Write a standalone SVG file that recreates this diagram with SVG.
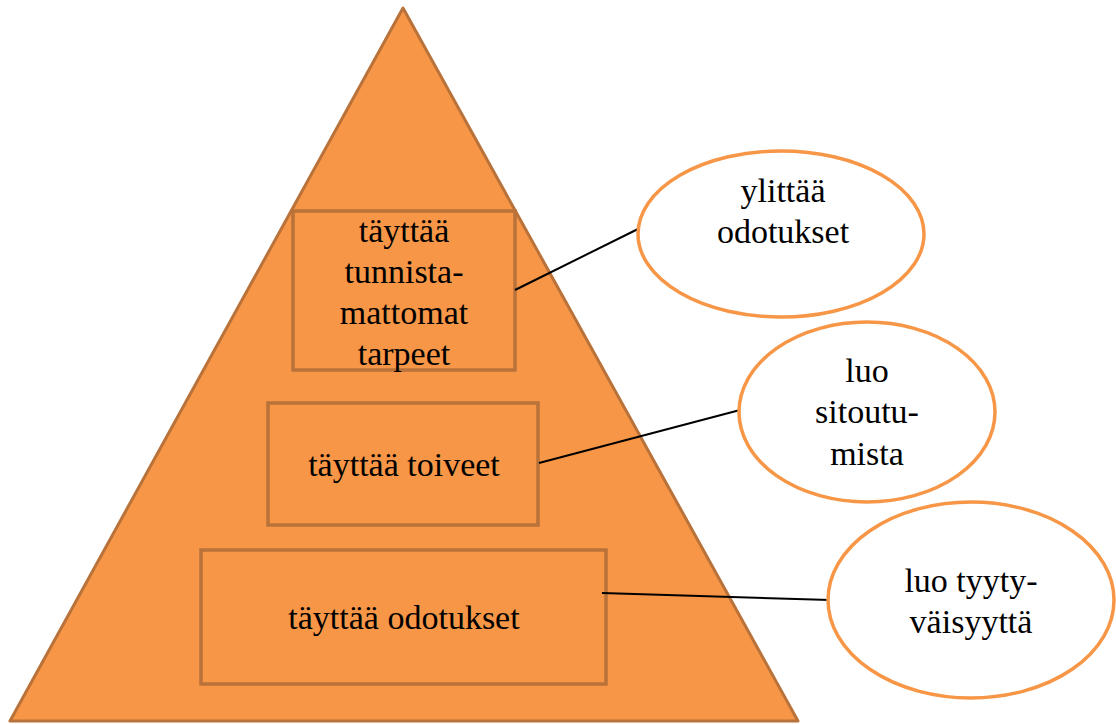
<svg xmlns="http://www.w3.org/2000/svg" width="1116" height="724" viewBox="0 0 1116 724">
  <style>
    .tri { fill: #F79646; stroke: #B8723A; stroke-width: 3; stroke-linejoin: round; }
    .box { fill: #F79646; stroke: #B8723A; stroke-width: 3.5; }
    .ell { fill: #FFFFFF; stroke: #F79646; stroke-width: 3.5; }
    .conn { stroke: #000000; stroke-width: 2; fill: none; }
    .lbl { font-family: 'Liberation Serif', 'DejaVu Serif', serif; font-size: 34px; fill: #000000; text-anchor: middle; }
  </style>
  <rect width="1116" height="724" fill="#FFFFFF"/>
  <g id="pyramid">
    <polygon class="tri" points="403,8 10,721 798,721"/>
  </g>
  <g id="box-tarpeet">
    <rect class="box" x="293" y="211" width="222" height="159"/>
    <text class="lbl" font-family="Liberation Serif, serif" x="404" y="242">täyttää</text>
    <text class="lbl" font-family="Liberation Serif, serif" x="404" y="283">tunnista-</text>
    <text class="lbl" font-family="Liberation Serif, serif" x="404" y="324">mattomat</text>
    <text class="lbl" font-family="Liberation Serif, serif" x="404" y="365">tarpeet</text>
  </g>
  <g id="box-toiveet">
    <rect class="box" x="268" y="403" width="270" height="122"/>
    <text class="lbl" font-family="Liberation Serif, serif" x="404" y="476">täyttää toiveet</text>
  </g>
  <g id="box-odotukset">
    <rect class="box" x="201" y="550" width="405" height="134"/>
    <text class="lbl" font-family="Liberation Serif, serif" x="404" y="629">täyttää odotukset</text>
  </g>
  <g id="connectors">
    <line class="conn" x1="515" y1="290" x2="640" y2="228"/>
    <line class="conn" x1="539" y1="463" x2="740" y2="410"/>
    <line class="conn" x1="602" y1="593" x2="830" y2="600"/>
  </g>
  <g id="ell-ylittaa">
    <ellipse class="ell" cx="781" cy="234" rx="143" ry="83"/>
    <text class="lbl" font-family="Liberation Serif, serif" x="783" y="202">ylittää</text>
    <text class="lbl" font-family="Liberation Serif, serif" x="783" y="243">odotukset</text>
  </g>
  <g id="ell-sitoutumista">
    <ellipse class="ell" cx="867" cy="412" rx="128" ry="90"/>
    <text class="lbl" font-family="Liberation Serif, serif" x="867" y="382">luo</text>
    <text class="lbl" font-family="Liberation Serif, serif" x="867" y="423">sitoutu-</text>
    <text class="lbl" font-family="Liberation Serif, serif" x="867" y="465">mista</text>
  </g>
  <g id="ell-tyytyvaisyytta">
    <ellipse class="ell" cx="971" cy="600" rx="143" ry="98"/>
    <text class="lbl" font-family="Liberation Serif, serif" x="971" y="592">luo tyyty-</text>
    <text class="lbl" font-family="Liberation Serif, serif" x="971" y="633">väisyyttä</text>
  </g>
</svg>
